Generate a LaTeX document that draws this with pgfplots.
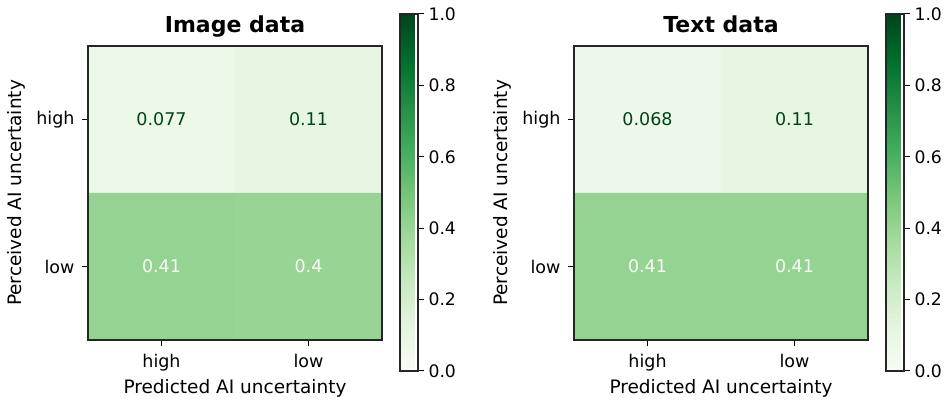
\documentclass[border=0pt]{standalone}
\usepackage{fontspec}
\setmainfont{DejaVu Sans}
\usepackage{pgfplots}
\pgfplotsset{compat=1.18}
\definecolor{annDark}{RGB}{0,68,27}
\definecolor{annLight}{RGB}{247,252,245}
\pgfplotsset{
  cm/.style={
    scale only axis, width=294pt, height=294pt,
    axis on top,
    xmin=-0.5, xmax=1.5, ymin=-0.5, ymax=1.5, y dir=reverse,
    enlargelimits=false,
    xtick={0,1}, ytick={0,1},
    xticklabels={high,low}, yticklabels={high,low},
    tick align=outside, tick pos=left, major tick length=6pt,
    every tick/.style={black, line width=1pt},
    axis line style={line width=1.1pt, black!85},
    tick label style={font=\fontsize{17.5}{20}\selectfont},
    xticklabel style={yshift=-5pt},
    yticklabel style={xshift=-4pt},
    every axis x label/.style={at={(axis description cs:0.5,-0.1803)}, anchor=base, font=\fontsize{18.5}{22}\selectfont},
    every axis y label/.style={at={(axis description cs:-0.245,0.5)}, anchor=center, rotate=90, font=\fontsize{18.5}{22}\selectfont},
    every axis title/.style={at={(axis description cs:0.5,1)}, anchor=base, yshift=13pt, font=\bfseries\fontsize{22}{26}\selectfont},
    xlabel={Predicted AI uncertainty},
    ylabel={Perceived AI uncertainty},
    colormap={greens}{rgb255=(247,252,245) rgb255=(229,245,224) rgb255=(199,233,192) rgb255=(161,217,155) rgb255=(116,196,118) rgb255=(65,171,93) rgb255=(35,139,69) rgb255=(0,109,44) rgb255=(0,68,27)},
    point meta min=0, point meta max=1,
    colorbar right,
    colorbar style={
      scale only axis, width=18pt, height=357pt,
      axis on top,
      at={(parent axis.south east)}, anchor=south west,
      xshift=9.5pt, yshift=-31pt,
      ytick={0,0.2,0.4,0.6,0.8,1.0},
      yticklabel={\pgfmathprintnumber[fixed,fixed zerofill,precision=1,assume math mode=true]{\tick}},
      tick align=outside, ytick pos=right, major tick length=6pt,
      every tick/.style={black, line width=1pt},
      axis line style={line width=1.1pt, black!85},
      tick label style={font=\fontsize{17.2}{20}\selectfont},
      yticklabel style={xshift=1pt},
    },
  },
  ann/.style={draw=none, mark=none, nodes near coords, point meta=explicit symbolic,
    nodes near coords align={center},
    every node near coord/.append style={font=\fontsize{17.5}{20}\selectfont, text=#1, anchor=center}},
}
\begin{document}
\begin{tikzpicture}[x=1pt,y=1pt]
\path[use as bounding box] (0,0) rectangle (949,403);
\begin{axis}[cm, at={(88pt,63pt)}, anchor=south west, title={Image data}]
\addplot[matrix plot*, mesh/cols=2, point meta=explicit] table[meta=c] {
x y c
0 0 0.077
1 0 0.11
0 1 0.41
1 1 0.40
};
\addplot[ann=annDark] table[meta=lab] {
x y lab
0 0 0.077
1 0 0.11
};
\addplot[ann=annLight] table[meta=lab] {
x y lab
0 1 0.41
1 1 0.4
};
\end{axis}
\begin{axis}[cm, at={(574pt,63pt)}, anchor=south west, title={Text data}]
\addplot[matrix plot*, mesh/cols=2, point meta=explicit] table[meta=c] {
x y c
0 0 0.068
1 0 0.11
0 1 0.41
1 1 0.41
};
\addplot[ann=annDark] table[meta=lab] {
x y lab
0 0 0.068
1 0 0.11
};
\addplot[ann=annLight] table[meta=lab] {
x y lab
0 1 0.41
1 1 0.41
};
\end{axis}
\end{tikzpicture}
\end{document}
